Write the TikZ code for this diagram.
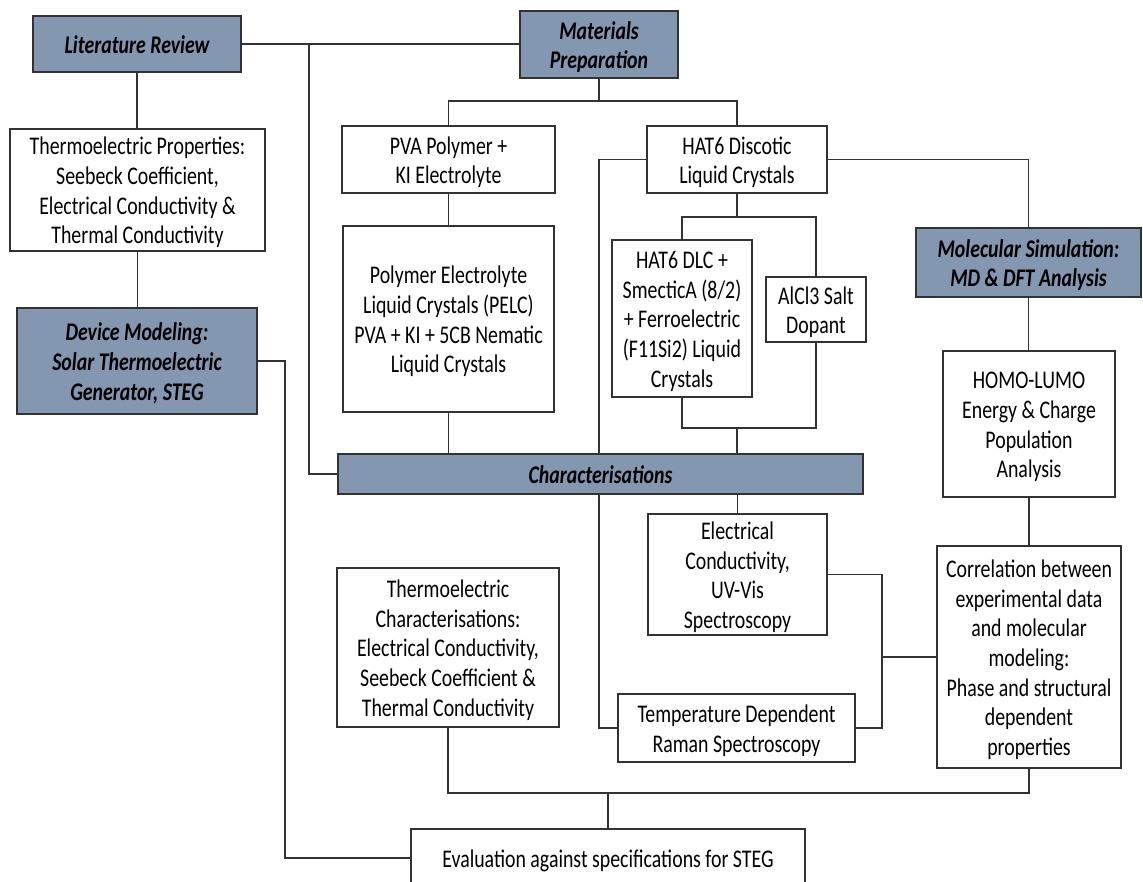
\documentclass[tikz,border=0pt]{standalone}
\usepackage{fontspec}
\setmainfont{Carlito}
\usepackage{graphicx}
\usetikzlibrary{calc}
\definecolor{hdr}{RGB}{132,151,176}
\definecolor{edge}{RGB}{50,50,50}
\newcommand\ys{1.28}
\newcommand\tx[1]{\raisebox{-2pt}[\height][\depth]{\scalebox{1}[\ys]{\fontsize{11.3}{13.2}\selectfont\begin{tabular}{@{}c@{}}#1\end{tabular}}}}
\newcommand\hx[1]{\raisebox{-2pt}[\height][\depth]{\scalebox{1}[\ys]{\fontsize{11.3}{13.2}\selectfont\bfseries\itshape\begin{tabular}{@{}c@{}}#1\end{tabular}}}}
\tikzset{
  box/.style={draw=edge, line width=1.1pt, fill=white, inner sep=0pt, outer sep=0pt, text=black},
  hbox/.style={box, fill=hdr, text=black},
  sz/.style 2 args={minimum width=#1*0.02cm, minimum height=#2*0.02cm},
  wire/.style={draw=edge, line width=1pt},
}
\begin{document}
\begin{tikzpicture}[x=0.02cm, y=-0.02cm]
\useasboundingbox (0,0) rectangle (1143,882);
\clip (0,0) rectangle (1143,882);
% boxes
\node[hbox, sz={208}{56}] (lit) at (137,44) {\hx{Literature Review}};
\node[hbox, sz={158}{67}] (mat) at (599,44.5) {\hx{Materials\\Preparation}};
\node[box, sz={255}{122}] (tp) at (137.5,190) {\tx{Thermoelectric Properties:\\Seebeck Coefficient,\\Electrical Conductivity \&\\Thermal Conductivity}};
\node[hbox, sz={240}{106}] (dev) at (137,361) {\hx{Device Modeling:\\Solar Thermoelectric\\Generator, STEG}};
\node[box, sz={213}{67}] (pva) at (448.5,159.5) {\tx{PVA Polymer +\\KI Electrolyte}};
\node[box, sz={211}{186}] (pelc) at (448.5,319) {\tx{Polymer Electrolyte\\Liquid Crystals (PELC)\\PVA + KI + 5CB Nematic\\Liquid Crystals}};
\node[box, sz={180}{67}] (hat) at (737,159.5) {\tx{HAT6 Discotic\\Liquid Crystals}};
\node[box, sz={140}{157}] (dlc) at (682,318.5) {\tx{HAT6 DLC +\\SmecticA (8/2)\\+ Ferroelectric\\(F11Si2) Liquid\\Crystals}};
\node[box, sz={100}{65}] (alcl) at (816,309.5) {\tx{AlCl3 Salt\\Dopant}};
\node[hbox, sz={225}{69}] (mol) at (1028.5,262.5) {\hx{Molecular Simulation:\\MD \& DFT Analysis}};
\node[box, sz={172}{146}] (homo) at (1029,424) {\tx{HOMO-LUMO\\Energy \& Charge\\Population\\Analysis}};
\node[hbox, sz={525}{40}] (chr) at (600.5,474) {\hx{Characterisations}};
\node[box, sz={222}{159}] (tc) at (448,647.5) {\tx{Thermoelectric\\Characterisations:\\Electrical Conductivity,\\Seebeck Coefficient \&\\Thermal Conductivity}};
\node[box, sz={179}{121}] (elec) at (737.5,574.5) {\tx{Electrical\\Conductivity,\\UV-Vis\\Spectroscopy}};
\node[box, sz={237}{68}] (temp) at (736.5,728) {\tx{Temperature Dependent\\Raman Spectroscopy}};
\node[box, sz={184}{222}] (corr) at (1029,657) {\tx{Correlation between\\experimental data\\and molecular\\modeling:\\Phase and structural\\dependent\\properties}};
\node[box, sz={394}{58}] (eval) at (608,858) {\tx{Evaluation against specifications for STEG}};
% connectors
\draw[wire] (lit.east) -- (lit.east -| mat.west);
\coordinate (j1) at (309,44);
\draw[wire] (j1) |- (chr.west);
\draw[wire] (lit.south) -- (lit.south |- tp.north);
\draw[wire] (tp.south) -- (tp.south |- dev.north);
\draw[wire] (dev.east) -- ++(28,0) |- (eval.west);
\draw[wire] (mat.south) -- ++(0,23) coordinate (m1);
\draw[wire] (m1) -| (pva.north);
\draw[wire] (m1) -| (hat.north);
\draw[wire] (pva.south) -- (pva.south |- pelc.north);
\draw[wire] (pelc.south) -- (pelc.south |- chr.north);
\draw[wire] (hat.west) -| (m1 |- chr.north);
\draw[wire] (m1 |- chr.south) |- (temp.west);
\draw[wire] (hat.east) -| (mol.north);
\draw[wire] (hat.south) -- ++(0,24) coordinate (h1);
\draw[wire] (h1) -| (dlc.north);
\draw[wire] (h1) -| (alcl.north);
\draw[wire] (dlc.south) -- ++(0,31) coordinate (d1) -| (alcl.south);
\draw[wire] (h1 |- d1) -- (h1 |- chr.north);
\draw[wire] (mol.south) -- (mol.south |- homo.north);
\draw[wire] (homo.south) -- (homo.south |- corr.north);
\draw[wire] (elec.north |- chr.south) -- (elec.north);
\draw[wire] (elec.east) -- ++(55,0) coordinate (e1) |- (temp.east);
\draw[wire] (e1 |- corr.west) -- (corr.west);
\draw[wire] (tc.south) -- ++(0,66) coordinate (t1) -| (corr.south);
\draw[wire] (eval.north |- t1) -- (eval.north);
\end{tikzpicture}
\end{document}
